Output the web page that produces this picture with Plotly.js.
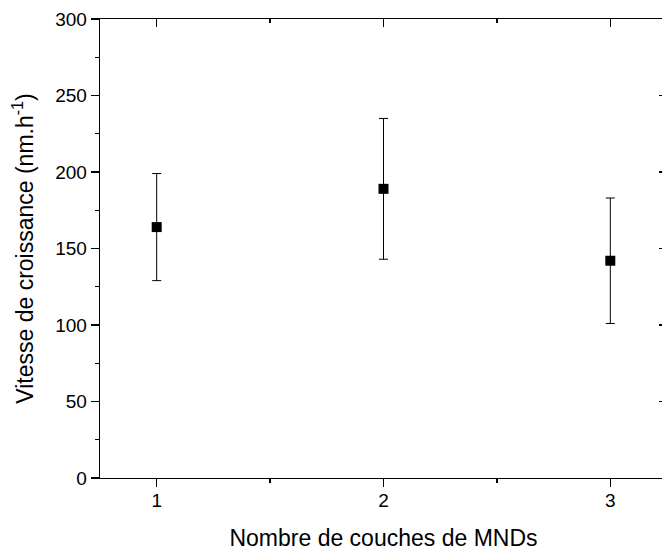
<!DOCTYPE html>
<html>
<head>
<meta charset="utf-8">
<script src="https://cdn.plot.ly/plotly-3.0.1.min.js"></script>
<style>
html,body{margin:0;padding:0;overflow:hidden;background:#fff;}
#chart{width:667px;height:551px;}
</style>
</head>
<body>
<div id="chart"></div>
<script>
const layers = [1, 2, 3];
const growthRate = [164, 189, 142];
const growthErr = [35, 46, 41];
const xTickVals = [1, 2, 3];
const yTickVals = [0, 50, 100, 150, 200, 250, 300];

const font = 'Liberation Sans, Arial, sans-serif';

const trace = {
  x: layers,
  y: growthRate,
  type: 'scatter',
  mode: 'markers',
  marker: {symbol: 'square', size: 10, color: '#000'},
  error_y: {type: 'data', array: growthErr, visible: true, color: '#000', thickness: 1, width: 4.5},
  showlegend: false,
  hoverinfo: 'x+y'
};

// invisible companion trace so the mirrored top/right axes get drawn
const frameTrace = {
  x: layers,
  y: growthRate,
  xaxis: 'x2', yaxis: 'y2',
  type: 'scatter', mode: 'markers',
  marker: {size: 1, opacity: 0},
  showlegend: false, hoverinfo: 'skip'
};

const axCommon = {
  showgrid: false, zeroline: false, showline: true, linecolor: '#000', linewidth: 1.3,
  tickcolor: '#000', tickwidth: 1.3, ticklen: 8
};

const layout = {
  width: 667, height: 551,
  margin: {l: 100, r: 0, t: 19, b: 73, autoexpand: false},
  paper_bgcolor: '#fff', plot_bgcolor: '#fff',
  font: {family: font, color: '#000', size: 18},
  xaxis: Object.assign({}, axCommon, {
    range: [0.75, 3.25], tickmode: 'array', tickvals: xTickVals, ticktext: xTickVals.map(String),
    ticks: 'outside', tickfont: {size: 19, family: font}, ticklabelstandoff: -3,
    minor: {ticks: 'outside', ticklen: 4, tickwidth: 1.3, tickcolor: '#000', tickvals: [1.5, 2.5]},
    title: {text: 'Nombre de couches de MNDs', font: {size: 23, family: font}, standoff: 21},
    automargin: true
  }),
  yaxis: Object.assign({}, axCommon, {
    range: [0, 300], tickmode: 'array', tickvals: yTickVals,
    ticks: 'outside', tickfont: {size: 19, family: font},
    minor: {ticks: 'outside', ticklen: 4, tickwidth: 1.3, tickcolor: '#000', tickvals: [25, 75, 125, 175, 225, 275]},
    title: {text: 'Vitesse de croissance (nm.h<sup>-1</sup>)', font: {size: 23, family: font}, standoff: 15},
    automargin: true
  }),
  xaxis2: Object.assign({}, axCommon, {
    overlaying: 'x', side: 'top', anchor: 'y', range: [0.75, 3.25],
    tickmode: 'array', tickvals: xTickVals, ticks: 'inside', showticklabels: false,
    minor: {ticks: 'inside', ticklen: 4, tickwidth: 1.3, tickcolor: '#000', tickvals: [1.5, 2.5]}
  }),
  yaxis2: Object.assign({}, axCommon, {
    overlaying: 'y', side: 'right', anchor: 'x', range: [0, 300],
    tickmode: 'array', tickvals: yTickVals, ticks: 'inside', showticklabels: false
  })
};

Plotly.newPlot('chart', [trace, frameTrace], layout, {displayModeBar: false, staticPlot: true});
</script>
</body>
</html>
